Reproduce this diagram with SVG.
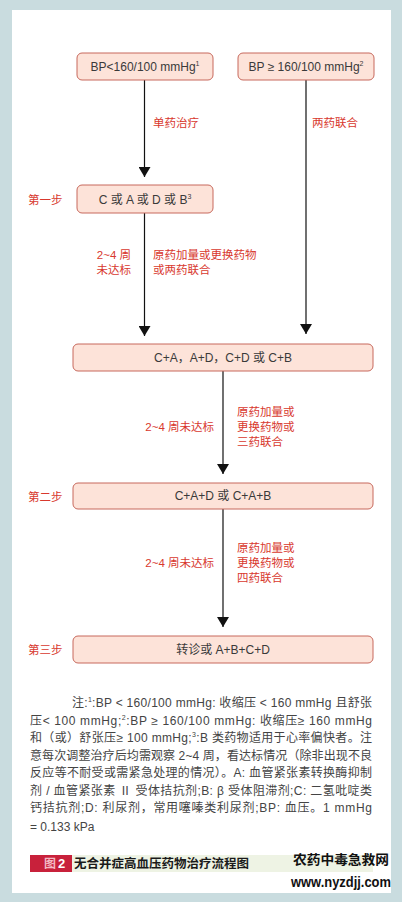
<svg xmlns="http://www.w3.org/2000/svg" width="402" height="902" viewBox="0 0 402 902">
<defs>
<marker id="ah" viewBox="0 0 10 12" refX="10" refY="6" markerWidth="10" markerHeight="12" markerUnits="userSpaceOnUse" orient="auto">
<path d="M0,0 L10,6 L0,12 Z" fill="#111"/>
</marker>
</defs>
<style>
.box{fill:#fde3d9;stroke:#c7685c;stroke-width:1}
.bt{font-family:"Liberation Sans","Noto Sans CJK SC",sans-serif;font-size:12px;fill:#3a3a3a;text-anchor:middle}
.sup{font-size:7px}
.rl{font-family:"Liberation Sans","Noto Sans CJK SC",sans-serif;font-size:11.5px;fill:#d8382e}
.edge{stroke:#111;stroke-width:1.2;fill:none;marker-end:url(#ah)}
.note{font-family:"Liberation Sans","Noto Sans CJK SC",sans-serif;font-size:12px;fill:#444}
</style>
<rect x="0" y="0" width="402" height="902" fill="#c9dcdf"/>
<rect x="12" y="10" width="379" height="883" fill="#ffffff"/>

<g id="connectors">
<line class="edge" x1="144.5" y1="80" x2="144.5" y2="177"/>
<line class="edge" x1="306" y1="80" x2="306" y2="334"/>
<line class="edge" x1="144.5" y1="213" x2="144.5" y2="336"/>
<line class="edge" x1="223" y1="371" x2="223" y2="474"/>
<line class="edge" x1="223" y1="509" x2="223" y2="627"/>
<text class="rl" x="153" y="127">单药治疗</text>
<text class="rl" x="312" y="127">两药联合</text>
<text class="rl" x="131" y="259" text-anchor="end">2~4 周</text>
<text class="rl" x="131" y="274" text-anchor="end">未达标</text>
<text class="rl" x="153" y="259">原药加量或更换药物</text>
<text class="rl" x="153" y="274">或两药联合</text>
<text class="rl" x="214" y="431" text-anchor="end">2~4 周未达标</text>
<text class="rl" x="237" y="416">原药加量或</text>
<text class="rl" x="237" y="431">更换药物或</text>
<text class="rl" x="237" y="446">三药联合</text>
<text class="rl" x="214" y="567" text-anchor="end">2~4 周未达标</text>
<text class="rl" x="237" y="552">原药加量或</text>
<text class="rl" x="237" y="567">更换药物或</text>
<text class="rl" x="237" y="582">四药联合</text>
</g>

<g id="n1">
<rect class="box" x="77" y="53" width="136" height="27" rx="5"/>
<text class="bt" x="145" y="71">BP&lt;160/100 mmHg<tspan class="sup" dy="-5">1</tspan></text>
</g>
<g id="n2">
<rect class="box" x="238" y="53" width="136" height="27" rx="5"/>
<text class="bt" x="306" y="71">BP ≥ 160/100 mmHg<tspan class="sup" dy="-5">2</tspan></text>
</g>
<g id="n3">
<text class="rl" x="28" y="204">第一步</text>
<rect class="box" x="77" y="185" width="136" height="28" rx="5"/>
<text class="bt" x="145" y="204">C 或 A 或 D 或 B<tspan class="sup" dy="-5">3</tspan></text>
</g>
<g id="n4">
<rect class="box" x="73" y="344" width="300" height="27" rx="5"/>
<text class="bt" x="223" y="362">C+A，A+D，C+D 或 C+B</text>
</g>
<g id="n5">
<text class="rl" x="28" y="501">第二步</text>
<rect class="box" x="73" y="483" width="300" height="26" rx="5"/>
<text class="bt" x="223" y="500">C+A+D 或 C+A+B</text>
</g>
<g id="n6">
<text class="rl" x="28" y="654">第三步</text>
<rect class="box" x="73" y="636" width="300" height="27" rx="5"/>
<text class="bt" x="223" y="654">转诊或 A+B+C+D</text>
</g>

<g id="notes">
<text class="note" x="72" y="707" textLength="300" lengthAdjust="spacing">注:<tspan font-size="7" dy="-5">1</tspan><tspan dy="5">:BP &lt; 160/100 mmHg: 收缩压 &lt; 160 mmHg 且舒张</tspan></text>
<text class="note" x="30" y="725" textLength="342" lengthAdjust="spacing">压&lt; 100 mmHg;<tspan font-size="7" dy="-5">2</tspan><tspan dy="5">:BP ≥ 160/100 mmHg: 收缩压≥ 160 mmHg</tspan></text>
<text class="note" x="30" y="742" textLength="342" lengthAdjust="spacing">和（或）舒张压≥ 100 mmHg;<tspan font-size="7" dy="-5">3</tspan><tspan dy="5">:B 类药物适用于心率偏快者。注</tspan></text>
<text class="note" x="30" y="760" textLength="342" lengthAdjust="spacing">意每次调整治疗后均需观察 2~4 周，看达标情况（除非出现不良</text>
<text class="note" x="30" y="777" textLength="342" lengthAdjust="spacing">反应等不耐受或需紧急处理的情况）。A: 血管紧张素转换酶抑制</text>
<text class="note" x="30" y="795" textLength="342" lengthAdjust="spacing">剂 / 血管紧张素 Ⅱ 受体拮抗剂;B: β 受体阻滞剂;C: 二氢吡啶类</text>
<text class="note" x="30" y="812" textLength="342" lengthAdjust="spacing">钙拮抗剂;D: 利尿剂，常用噻嗪类利尿剂;BP: 血压。1 mmHg</text>
<text class="note" x="30" y="831">= 0.133 kPa</text>
</g>

<g id="caption">
<rect x="72" y="855" width="301" height="17" fill="#eef3e4"/>
<rect x="30" y="855" width="42" height="17" fill="#c8213b"/>
<text x="44" y="868" font-family="'Noto Sans CJK SC',sans-serif" font-size="12" font-weight="bold" fill="#f3b9c3">图</text>
<text x="58" y="868" font-family="'Liberation Sans',sans-serif" font-size="13" font-weight="bold" fill="#ffffff">2</text>
<text x="74" y="868" font-family="'Noto Sans CJK SC',sans-serif" font-size="12.5" font-weight="bold" fill="#1a1a1a">无合并症高血压药物治疗流程图</text>
</g>

<g id="watermark">
<text x="293" y="864" font-family="'Noto Sans CJK SC',sans-serif" font-size="13" font-weight="bold" fill="#111" textLength="96" lengthAdjust="spacingAndGlyphs">农药中毒急救网</text>
<text x="291" y="887" font-family="'Liberation Sans',sans-serif" font-size="14" font-weight="bold" fill="#111" textLength="100" lengthAdjust="spacingAndGlyphs">www.nyzdjj.com</text>
</g>
</svg>
